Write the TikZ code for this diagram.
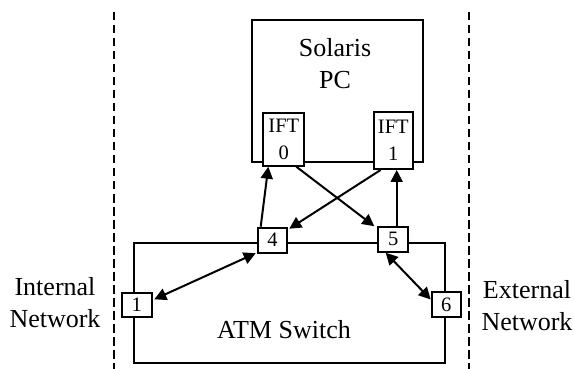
\documentclass[tikz,border=0pt]{standalone}
\usepackage{fontspec}
\setmainfont{Liberation Serif}
\usetikzlibrary{arrows.meta,calc}
\begin{document}
\begin{tikzpicture}[x=1pt,y=-1pt,
  big/.style={draw,line width=2pt,fill=white},
  port/.style={draw,line width=2pt,fill=white,inner sep=0pt,font=\fontsize{20.5}{27}\selectfont,align=center},
  lbl/.style={inner sep=0pt,align=center,font=\fontsize{26}{32}\selectfont},
  conn/.style={line width=2pt,-{Triangle[length=12pt,width=12pt]}},
  bconn/.style={line width=2pt,{Triangle[length=12pt,width=12pt]}-{Triangle[length=12pt,width=12pt]}},
  sep/.style={line width=2pt,dash pattern=on 8.5pt off 4.5pt}]
\useasboundingbox (0,0) rectangle (574,369);
% separators
\coordinate (lt) at (114,12);
\coordinate (lb) at (114,369);
\coordinate (rt) at (469.3,12);
\coordinate (rb) at (469.3,369);
\draw[sep] (lt) -- (lb);
\draw[sep] (rt) -- (rb);
% big boxes
\node[big,minimum width=171.3pt,minimum height=141.7pt,inner sep=0pt] (pc) at (337.35,90.85) {};
\node[big,minimum width=311.3pt,minimum height=119.4pt,inner sep=0pt] (atm) at (289.65,303) {};
\node[lbl] (pct) at (335,64) {Solaris\\PC};
\node[lbl] (atmt) at (284,330) {ATM Switch};
% ports
\node[port,minimum width=41pt,minimum height=52.4pt] (ift0) at (283.8,139.5) {IFT\\0};
\node[port,minimum width=38.7pt,minimum height=57.3pt] (ift1) at (393.3,140.3) {IFT\\1};
\node[port,minimum width=30pt,minimum height=24.6pt] (b1) at (136.7,305) {1};
\node[port,minimum width=29.6pt,minimum height=25pt] (b4) at (272.5,240.2) {4};
\node[port,minimum width=30pt,minimum height=25pt] (b5) at (393.3,239.2) {5};
\node[port,minimum width=29pt,minimum height=25.6pt] (b6) at (446.2,304.5) {6};
% side labels
\node[lbl] (int) at (55,303) {Internal\\Network};
\node[lbl] (ext) at (527,306) {External\\Network};
% connectors
\draw[conn] ($(b4.north west)+(4,0)$) -- ($(ift0.south west)+(6,0)$);
\draw[conn] ($(ift0.south east)+(-9,0)$) -- ($(b5.north west)+(-3,0.5)$);
\draw[conn] ($(ift1.south west)+(7.7,0)$) -- ($(b4.north east)+(1,2)$);
\draw[conn] ($(b5.north)+(3.4,0)$) -- ($(ift1.south)+(3.4,0)$);
\draw[bconn] ($(b1.east)+(1.6,-5.7)$) -- ($(b4.south west)+(-1,-0.5)$);
\draw[bconn] ($(b5.south west)+(8.4,0)$) -- ($(b6.west)+(0,-5)$);
\end{tikzpicture}
\end{document}
